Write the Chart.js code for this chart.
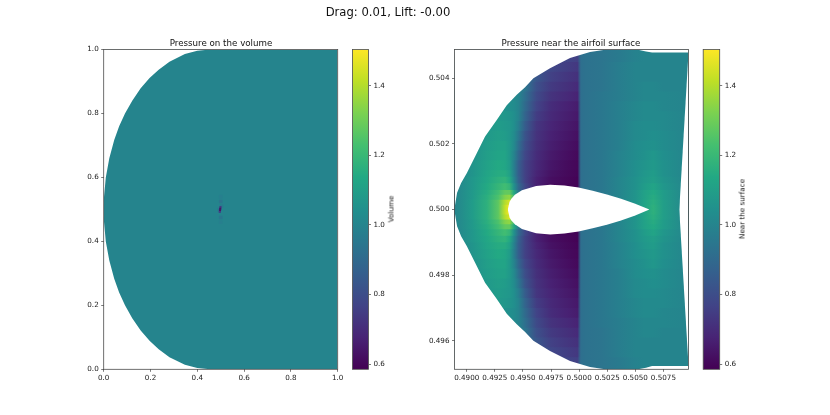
<!DOCTYPE html>
<html>
<head>
<meta charset="utf-8">
<title>Drag and lift</title>
<script src="https://cdn.jsdelivr.net/npm/chart.js@4"></script>
<style>
  html, body { margin: 0; padding: 0; background: #fff; }
  #page { position: relative; width: 830px; height: 415px; overflow: hidden; font-family: "DejaVu Sans", sans-serif; color: #111; }
  canvas { position: absolute; left: 0; top: 0; }
  .txt { position: absolute; white-space: nowrap; transform: translate(-50%, -50%); }
  .main { font-size: 11.6px; }
  .sub { font-size: 8.7px; }
  .side { font-size: 7.2px; transform: translate(-50%, -50%) rotate(-90deg); }
</style>
</head>
<body>
<div id="page">
  <canvas id="volume" width="830" height="415"></canvas>
  <canvas id="volumeBar" width="830" height="415"></canvas>
  <canvas id="surface" width="830" height="415"></canvas>
  <canvas id="surfaceBar" width="830" height="415"></canvas>
  <div class="txt main" style="left:388px;top:12px">Drag: 0.01, Lift: -0.00</div>
  <div class="txt sub" style="left:221px;top:42.5px">Pressure on the volume</div>
  <div class="txt sub" style="left:571px;top:42.5px">Pressure near the airfoil surface</div>
  <div class="txt side" style="left:390.5px;top:209px">Volume</div>
  <div class="txt side" style="left:742px;top:209px">Near the surface</div>
</div>
<script>
const VMIN = 0.585;
const VMAX = 1.504;
const viridis = ["#440154", "#482475", "#414487", "#355f8d", "#2a788e", "#21908d", "#22a884", "#44bf70", "#7ad151", "#bddf26", "#fde725"];

const barTicks = [0.6, 0.8, 1.0, 1.2, 1.4];

// left panel: flat field, curved inlet, small streak at the airfoil
const volumeTicks = [0, 0.2, 0.4, 0.6, 0.8, 1.0];
const volumeP = 1.0;
const volumeEdgeX = [0, 0.0015, 0.009, 0.024, 0.045, 0.066, 0.091, 0.122, 0.158, 0.196, 0.235, 0.281, 0.347, 0.4, 0.455];
const volumeTopY = [0.5, 0.54, 0.6, 0.66, 0.717, 0.76, 0.8, 0.84, 0.879, 0.911, 0.937, 0.962, 0.986, 0.996, 1];
const volumeBottomY = [0.5, 0.46, 0.4, 0.34, 0.283, 0.24, 0.2, 0.16, 0.121, 0.089, 0.063, 0.038, 0.014, 0.004, 0];
const streakX = [0.5, 0.5, 0.503, 0.494, 0.5, 0.5, 0.499, 0.498, 0.497, 0.496];
const streakY = [0.54, 0.46, 0.51, 0.5, 0.525, 0.475, 0.507, 0.502, 0.497, 0.492];
const streakP = [0.98, 0.98, 0.96, 0.95, 0.94, 0.95, 0.74, 0.64, 0.64, 0.76];

// right panel
const surfaceXMin = 0.48891;
const surfaceXMax = 0.50973;
const surfaceYMin = 0.49513;
const surfaceYMax = 0.50488;
const surfaceXTicks = [0.49, 0.4925, 0.495, 0.4975, 0.5, 0.5025, 0.505, 0.5075];
const surfaceYTicks = [0.496, 0.498, 0.5, 0.502, 0.504];

const outerTopX = [0.48891, 0.48896, 0.48914, 0.4895, 0.49, 0.49089, 0.49163, 0.49267, 0.49356, 0.49445, 0.49519, 0.49593, 0.49741, 0.49919, 0.50097, 0.50231, 0.50319, 0.50524, 0.50595, 0.50649, 0.50973];
const outerTopY = [0.5, 0.50014, 0.50051, 0.50081, 0.50111, 0.50172, 0.50223, 0.50273, 0.50318, 0.5035, 0.50373, 0.504, 0.50431, 0.50462, 0.5048, 0.50487, 0.50488, 0.50487, 0.50482, 0.50479, 0.50479];
const outerBottomY = [0.5, 0.49986, 0.49949, 0.49919, 0.49889, 0.49828, 0.49777, 0.49727, 0.49682, 0.4965, 0.49627, 0.496, 0.49569, 0.49538, 0.4952, 0.49513, 0.49513, 0.49513, 0.49518, 0.49523, 0.49523];
const notchX = [0.50891, 0.50973];
const notchTopY = [0.5, 0.50479];
const notchBottomY = [0.5, 0.49523];

const foilX = [0.49365, 0.49381, 0.49397, 0.49428, 0.49491, 0.49617, 0.49743, 0.49869, 0.49995, 0.50121, 0.50247, 0.50373, 0.50499, 0.50625];
const foilHalf = [0, 0.00024, 0.00033, 0.00045, 0.00059, 0.00072, 0.00076, 0.00073, 0.00067, 0.00057, 0.00046, 0.00033, 0.00018, 0];

// pressure: columns at fieldX, one row per band around the chord
const fieldX = [0.48891, 0.4905, 0.4918, 0.4928, 0.4934, 0.4938, 0.4942, 0.4946, 0.4952, 0.4962, 0.4975, 0.499, 0.49985, 0.50015, 0.5006, 0.502, 0.5035, 0.505, 0.5058, 0.5066, 0.5075, 0.50973];
const bandEdge = [0.00015, 0.0003, 0.00045, 0.0006, 0.0008, 0.001, 0.0012, 0.0015, 0.0018, 0.0021, 0.0024, 0.0027, 0.003, 0.0033, 0.0036, 0.0039, 0.0042, 0.0045, 0.0048, 0.0049];
const pressureRows = [
  [1.00, 1.09, 1.17, 1.27, 1.42, 1.50, 1.30, 1.00, 0.80, 0.66, 0.60, 0.59, 0.585, 0.93, 0.93, 0.95, 1.00, 1.06, 1.12, 1.17, 1.10, 1.00],
  [1.00, 1.09, 1.17, 1.27, 1.40, 1.45, 1.28, 1.00, 0.80, 0.66, 0.60, 0.59, 0.585, 0.93, 0.93, 0.95, 1.00, 1.06, 1.12, 1.16, 1.10, 1.00],
  [1.00, 1.08, 1.16, 1.24, 1.33, 1.35, 1.20, 0.98, 0.80, 0.66, 0.60, 0.59, 0.585, 0.93, 0.93, 0.95, 1.00, 1.06, 1.11, 1.15, 1.09, 1.00],
  [1.00, 1.08, 1.15, 1.22, 1.28, 1.28, 1.14, 0.95, 0.79, 0.66, 0.60, 0.59, 0.585, 0.92, 0.93, 0.95, 1.00, 1.06, 1.11, 1.14, 1.09, 1.00],
  [1.00, 1.07, 1.14, 1.19, 1.22, 1.19, 1.05, 0.90, 0.78, 0.67, 0.61, 0.595, 0.59, 0.92, 0.93, 0.95, 1.00, 1.05, 1.09, 1.12, 1.07, 1.00],
  [1.00, 1.07, 1.13, 1.17, 1.18, 1.14, 1.01, 0.87, 0.76, 0.67, 0.62, 0.60, 0.59, 0.92, 0.93, 0.95, 1.00, 1.05, 1.08, 1.10, 1.06, 1.00],
  [1.00, 1.06, 1.12, 1.15, 1.15, 1.11, 0.99, 0.86, 0.76, 0.68, 0.63, 0.605, 0.595, 0.92, 0.93, 0.95, 0.99, 1.04, 1.07, 1.09, 1.05, 1.00],
  [1.00, 1.06, 1.11, 1.14, 1.13, 1.09, 0.98, 0.86, 0.76, 0.69, 0.64, 0.61, 0.60, 0.92, 0.93, 0.95, 0.99, 1.04, 1.06, 1.08, 1.05, 1.00],
  [1.00, 1.05, 1.10, 1.12, 1.12, 1.08, 1.00, 0.89, 0.78, 0.70, 0.65, 0.62, 0.605, 0.92, 0.93, 0.95, 0.99, 1.03, 1.05, 1.07, 1.04, 1.00],
  [1.00, 1.05, 1.09, 1.11, 1.11, 1.08, 1.02, 0.92, 0.80, 0.71, 0.66, 0.63, 0.615, 0.92, 0.93, 0.95, 0.98, 1.03, 1.04, 1.05, 1.03, 1.00],
  [1.00, 1.04, 1.08, 1.10, 1.09, 1.07, 1.03, 0.95, 0.82, 0.72, 0.67, 0.64, 0.625, 0.92, 0.93, 0.95, 0.98, 1.02, 1.03, 1.04, 1.03, 1.00],
  [1.00, 1.04, 1.07, 1.09, 1.08, 1.07, 1.04, 0.98, 0.85, 0.73, 0.68, 0.65, 0.635, 0.92, 0.93, 0.95, 0.98, 1.02, 1.03, 1.03, 1.02, 1.00],
  [1.00, 1.04, 1.06, 1.08, 1.07, 1.06, 1.04, 1.00, 0.88, 0.75, 0.69, 0.66, 0.645, 0.92, 0.93, 0.95, 0.98, 1.01, 1.02, 1.02, 1.02, 1.00],
  [1.00, 1.03, 1.05, 1.06, 1.05, 1.04, 1.03, 1.00, 0.90, 0.77, 0.70, 0.67, 0.655, 0.92, 0.93, 0.95, 0.98, 1.01, 1.02, 1.02, 1.01, 1.00],
  [1.00, 1.03, 1.04, 1.05, 1.04, 1.03, 1.02, 1.00, 0.92, 0.79, 0.72, 0.69, 0.675, 0.92, 0.93, 0.95, 0.97, 1.00, 1.01, 1.01, 1.01, 1.00],
  [1.00, 1.02, 1.03, 1.04, 1.03, 1.02, 1.01, 1.00, 0.94, 0.81, 0.74, 0.71, 0.695, 0.92, 0.93, 0.94, 0.97, 1.00, 1.01, 1.01, 1.00, 1.00],
  [1.00, 1.02, 1.03, 1.03, 1.02, 1.01, 1.00, 0.98, 0.94, 0.83, 0.76, 0.73, 0.715, 0.92, 0.93, 0.94, 0.97, 1.00, 1.00, 1.00, 1.00, 1.00],
  [1.00, 1.01, 1.02, 1.02, 1.01, 1.00, 1.00, 0.97, 0.94, 0.85, 0.78, 0.75, 0.735, 0.92, 0.93, 0.94, 0.97, 1.00, 1.00, 1.00, 1.00, 1.00],
  [1.00, 1.01, 1.01, 1.01, 1.00, 1.00, 0.99, 0.96, 0.93, 0.86, 0.80, 0.77, 0.76, 0.92, 0.93, 0.94, 0.96, 0.99, 1.00, 1.00, 1.00, 1.00],
  [1.00, 1.00, 1.00, 1.00, 1.00, 1.00, 0.98, 0.95, 0.92, 0.87, 0.82, 0.79, 0.78, 0.92, 0.93, 0.94, 0.96, 0.99, 1.00, 1.00, 1.00, 1.00],
];

const FONT = { family: "'DejaVu Sans'", size: 7.2 };
const INK = "#222";
const SPINE = "#4d4d4d";

function hexToRgb(h) {
  return [1, 3, 5].map((i) => parseInt(h.slice(i, i + 2), 16));
}

function pressureColor(p) {
  let t = (p - VMIN) / (VMAX - VMIN);
  t = Math.min(1, Math.max(0, t)) * (viridis.length - 1);
  const i = Math.min(viridis.length - 2, Math.floor(t));
  const a = hexToRgb(viridis[i]);
  const b = hexToRgb(viridis[i + 1]);
  const c = a.map((v, k) => Math.round(v + (b[k] - v) * (t - i)));
  return `rgb(${c[0]},${c[1]},${c[2]})`;
}

function pairs(xs, ys) {
  return xs.map((x, i) => ({ x, y: ys[i] }));
}

// white region between a curve and a level (or the next dataset), painted over the field
function mask(xs, ys, target) {
  return {
    type: "line",
    data: pairs(xs, ys),
    borderWidth: 0,
    pointRadius: 0,
    backgroundColor: "#fff",
    fill: target,
  };
}

function rowGradient(chart, row) {
  const sx = chart.scales.x;
  const left = sx.getPixelForValue(surfaceXMin);
  const right = sx.getPixelForValue(surfaceXMax);
  // scales are not laid out yet on the first pass
  if (!isFinite(left) || !isFinite(right) || right <= left) return viridis[4];
  const g = chart.ctx.createLinearGradient(left, 0, right, 0);
  fieldX.forEach((x, i) => {
    const off = (sx.getPixelForValue(x) - left) / (right - left);
    g.addColorStop(Math.min(1, Math.max(0, off)), pressureColor(row[i]));
  });
  return g;
}

const framePlugin = {
  id: "frame",
  afterDraw(chart) {
    const { ctx, chartArea: a } = chart;
    ctx.save();
    ctx.strokeStyle = SPINE;
    ctx.lineWidth = 0.8;
    ctx.strokeRect(a.left, a.top, a.right - a.left, a.bottom - a.top);
    ctx.restore();
  },
};

function axis(min, max, ticks, label, size, extra) {
  return Object.assign({
    type: "linear",
    min,
    max,
    afterBuildTicks(s) { s.ticks = ticks.map((value) => ({ value })); },
    afterFit(s) {
      if (s.isHorizontal()) s.height = size;
      else s.width = size;
    },
    grid: { drawOnChartArea: false, drawTicks: true, tickLength: 2.5, tickColor: INK, tickWidth: 0.6 },
    border: { display: false },
    ticks: { font: FONT, color: INK, padding: 2.5, maxRotation: 0, autoSkip: false, callback: label },
  }, extra);
}

function mapChart(id, datasets, box, xs, ys) {
  new Chart(document.getElementById(id), {
    type: "scatter",
    data: { datasets },
    options: {
      responsive: false,
      animation: false,
      layout: { padding: { left: 0, top: box.top, right: 830 - box.right, bottom: 0 } },
      plugins: { legend: { display: false }, tooltip: { enabled: false } },
      scales: {
        x: axis(xs.min, xs.max, xs.ticks, xs.label, 415 - box.bottom),
        y: axis(ys.min, ys.max, ys.ticks, ys.label, box.left),
      },
    },
    plugins: [framePlugin],
  });
}

function barChart(id, box) {
  new Chart(document.getElementById(id), {
    type: "bar",
    data: {
      labels: [""],
      datasets: [{
        data: [[VMIN, VMAX]],
        barPercentage: 1,
        categoryPercentage: 1,
        backgroundColor(c) {
          const a = c.chart.chartArea;
          if (!a) return viridis[4];
          const g = c.chart.ctx.createLinearGradient(0, a.bottom, 0, a.top);
          viridis.forEach((hex, i) => g.addColorStop(i / (viridis.length - 1), hex));
          return g;
        },
      }],
    },
    options: {
      responsive: false,
      animation: false,
      layout: { padding: { left: box.left, top: box.top, right: 0, bottom: 415 - box.bottom } },
      plugins: { legend: { display: false }, tooltip: { enabled: false } },
      scales: {
        x: { display: false },
        y: axis(VMIN, VMAX, barTicks, (v) => v.toFixed(1), 830 - box.right, { position: "right" }),
      },
    },
    plugins: [framePlugin],
  });
}

// left panel
const volumeSets = [
  mask(volumeEdgeX, volumeTopY, { target: { value: 1 } }),
  mask(volumeEdgeX, volumeBottomY, { target: { value: 0 } }),
  {
    data: pairs(streakX, streakY),
    pointStyle: "rect",
    pointRadius: streakP.map((p) => (p < 0.8 ? 1.5 : 2.5)),
    pointBorderWidth: 0,
    backgroundColor: streakP.map(pressureColor),
  },
  {
    type: "line",
    data: [{ x: 0, y: 1 }, { x: 1, y: 1 }],
    borderWidth: 0,
    pointRadius: 0,
    backgroundColor: pressureColor(volumeP),
    fill: { target: { value: 0 } },
  },
];
mapChart("volume", volumeSets, { left: 103.7, top: 49.5, right: 337.7, bottom: 369.3 },
  { min: 0, max: 1, ticks: volumeTicks, label: (v) => v.toFixed(1) },
  { min: 0, max: 1, ticks: volumeTicks, label: (v) => v.toFixed(1) });
barChart("volumeBar", { left: 352.5, top: 49.5, right: 368.5, bottom: 369.3 });

// right panel: first dataset is drawn last, so masks lead and the widest band trails
const chordY = 0.5;
const foilUpper = foilHalf.map((h) => chordY + h);
const foilLower = foilHalf.map((h) => chordY - h);
const fieldSets = pressureRows.map((row, i) => ({
  type: "line",
  data: [{ x: surfaceXMin, y: chordY + bandEdge[i] }, { x: surfaceXMax, y: chordY + bandEdge[i] }],
  borderWidth: 0,
  pointRadius: 0,
  backgroundColor: (c) => rowGradient(c.chart, row),
  fill: { target: { value: chordY - bandEdge[i] } },
}));
const surfaceSets = [
  mask(foilX, foilUpper, "+1"),
  mask(foilX, foilLower, false),
  mask(outerTopX, outerTopY, { target: { value: surfaceYMax } }),
  mask(outerTopX, outerBottomY, { target: { value: surfaceYMin } }),
  mask(notchX, notchTopY, "+1"),
  mask(notchX, notchBottomY, false),
  ...fieldSets,
];
mapChart("surface", surfaceSets, { left: 454.5, top: 49.5, right: 688.5, bottom: 369.3 },
  { min: surfaceXMin, max: surfaceXMax, ticks: surfaceXTicks, label: (v) => v.toFixed(4) },
  { min: surfaceYMin, max: surfaceYMax, ticks: surfaceYTicks, label: (v) => v.toFixed(3) });
barChart("surfaceBar", { left: 703.2, top: 49.5, right: 719.7, bottom: 369.3 });
</script>
</body>
</html>
